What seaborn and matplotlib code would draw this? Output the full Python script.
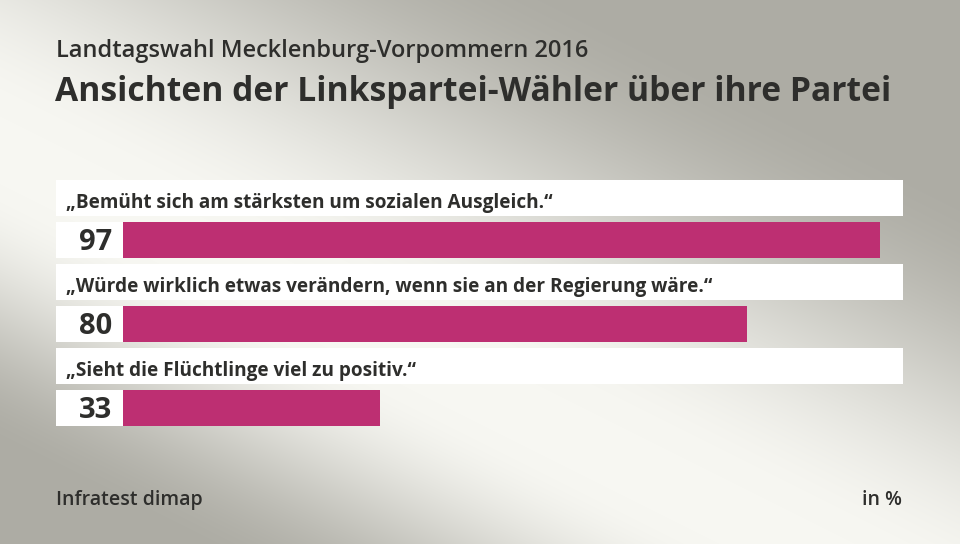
import numpy as np
import pandas as pd
import matplotlib
matplotlib.use("Agg")
import matplotlib.pyplot as plt
import seaborn as sns

# Data
categories = ["„Bemüht sich am stärksten um sozialen Ausgleich.“",
              "„Würde wirklich etwas verändern, wenn sie an der Regierung wäre.“",
              "„Sieht die Flüchtlinge viel zu positiv.“"]
values = [97, 80, 33]
title = "Ansichten der Linkspartei-Wähler über ihre Partei"
subtitle = "Landtagswahl Mecklenburg-Vorpommern 2016"
source = "Infratest dimap"
unit = "in %"

W, H = 960, 544
sns.set_theme(style="white")
plt.rcParams['font.family'] = ['Open Sans', 'DejaVu Sans']
TEXT = "#2e2e2c"
MAGENTA = "#bd2f72"

fig = plt.figure(figsize=(W / 100, H / 100), dpi=100)

# Background gradient: light diagonal band from upper-left to lower-right
bg = fig.add_axes([0, 0, 1, 1], zorder=0)
yy, xx = np.mgrid[0:H, 0:W].astype(float)
d = (0.5 * xx - yy + 150) / np.hypot(0.5, 1.0)
s = np.where(d > 0, 400.0, 270.0)
t = np.clip((np.abs(d) - 30) / (s - 30), 0, 1)
t = t * t * (3 - 2 * t)
light = np.array([247, 247, 242]) / 255
dark = np.array([173, 172, 164]) / 255
img = light[None, None, :] * (1 - t[..., None]) + dark[None, None, :] * t[..., None]
bg.imshow(img, extent=[0, W, H, 0], aspect='auto', interpolation='bilinear')
bg.set_xlim(0, W); bg.set_ylim(H, 0)
bg.axis('off')

def fy(py):
    return 1 - py / H

fig.text(56 / W, fy(57), subtitle, fontsize=17, fontweight='semibold', color=TEXT,
         va='baseline', ha='left', zorder=5)
fig.text(55 / W, fy(101), title, fontsize=24.2, fontweight='bold', color=TEXT,
         va='baseline', ha='left', zorder=5)
fig.text(56 / W, fy(505), source, fontsize=14, fontweight='semibold', color=TEXT,
         va='baseline', ha='left', zorder=5)
fig.text(902 / W, fy(505), unit, fontsize=14, fontweight='semibold', color=TEXT,
         va='baseline', ha='right', zorder=5)

# Bar axes: pixel x 56..903, y 180..432
ppu = 780 / 100.0  # pixels per percent
x0 = -67 / ppu
ax = fig.add_axes([56 / W, fy(432), (903 - 56) / W, (432 - 180) / H], zorder=2)
ax.patch.set_alpha(0)
df = pd.DataFrame({"cat": categories, "val": values})
sns.barplot(data=df, x="val", y="cat", orient="h", color=MAGENTA, saturation=1,
            width=36 / 84, ax=ax, zorder=3, linewidth=0)
pos = np.arange(len(categories))
ax.barh(pos - 0.5, 100 - x0, left=x0, height=36 / 84, color="white", zorder=2, linewidth=0)
ax.barh(pos, -x0, left=x0, height=36 / 84, color="white", zorder=2, linewidth=0)
ax.set_xlim(x0, 100)
ax.set_ylim(2.286, -0.714)
ax.axis('off')

for i, (c, v) in enumerate(zip(categories, values)):
    fig.text(66 / W, fy(208 + 84 * i), c, fontsize=13.7, fontweight='bold', color=TEXT,
             va='baseline', ha='left', zorder=6)
    fig.text(112 / W, fy(250 + 84 * i), str(v), fontsize=21, fontweight='bold', color=TEXT,
             va='baseline', ha='right', zorder=6)

fig.savefig("out.png", dpi=100)
